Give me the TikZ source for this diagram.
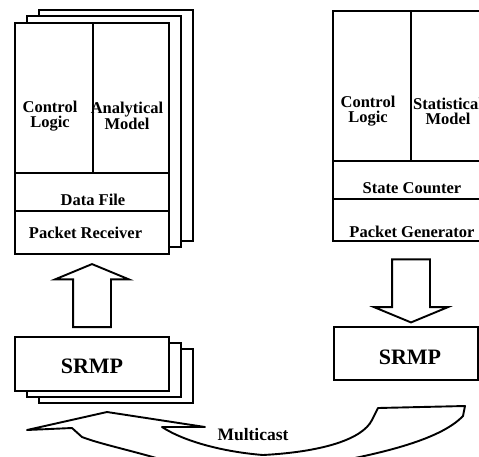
\documentclass[tikz,border=0pt]{standalone}
\usepackage{fontspec}
\setmainfont{Liberation Serif}
\usepackage{tikz}
\usetikzlibrary{shapes.arrows}

\tikzstyle{sheet} = [rectangle, draw=black, line width=1.9pt, fill=white, inner sep=0pt]
\tikzstyle{cell} = [rectangle, draw=black, line width=1.9pt, inner sep=0pt]
\tikzstyle{caption} = [font=\bfseries\fontsize{16.5}{15}\selectfont, align=center, inner sep=0pt]
\tikzstyle{bigcaption} = [font=\bfseries\fontsize{22}{24}\selectfont, inner sep=0pt]
\tikzstyle{blockarrow} = [single arrow, draw=black, line width=1.9pt, fill=white, inner sep=0pt, minimum height=63pt, single arrow head extend=18pt, single arrow tip angle=135]
\tikzstyle{band} = [draw=black, line width=1.9pt, line join=round, fill=white]

\begin{document}
\begin{tikzpicture}[x=1pt, y=-1pt]
    \useasboundingbox (0,0) rectangle (479,456);
    \clip (0,0) rectangle (479,456);

    % receiver side: three stacked copies
    \node (rxBackB) [sheet, minimum width=154pt, minimum height=231pt] at (116,125.5) {};
    \node (rxBackA) [sheet, minimum width=154pt, minimum height=231pt] at (104,131.5) {};
    \node (rxFront) [sheet, minimum width=154pt, minimum height=231pt] at (92,138.5) {};
    \node (rxCtrl) [cell, minimum width=78pt, minimum height=150pt] at (54,98) {};
    \node (rxModel) [cell, minimum width=76pt, minimum height=150pt] at (131,98) {};
    \node (rxData) [cell, minimum width=154pt, minimum height=38pt] at (92,192) {};
    \node (rxRecv) [cell, minimum width=154pt, minimum height=43pt] at (92,232.5) {};

    \node (rxCtrlText) [caption] at (50,116) {Control\\Logic};
    \node (rxModelText) [caption] at (127,116) {Analytical\\Model};
    \node (rxDataText) [caption, anchor=base] at (93,205) {Data File};
    \node (rxRecvText) [caption, anchor=base] at (85.5,238) {Packet Receiver};

    % generator side
    \node (genFront) [sheet, minimum width=154pt, minimum height=230pt] at (410,126) {};
    \node (genCtrl) [cell, minimum width=78pt, minimum height=150pt] at (372,86) {};
    \node (genModel) [cell, minimum width=76pt, minimum height=150pt] at (449,86) {};
    \node (genState) [cell, minimum width=154pt, minimum height=38pt] at (410,180) {};
    \node (genPkt) [cell, minimum width=154pt, minimum height=42pt] at (410,220) {};

    \node (genCtrlText) [caption] at (368,111) {Control\\Logic};
    \node (genModelText) [caption] at (448,111) {Statistical\\Model};
    \node (genStateText) [caption, anchor=base] at (412,193) {State Counter};
    \node (genPktText) [caption, anchor=base] at (412,237) {Packet Generator};

    % SRMP layers
    \node (srmpRxB) [sheet, minimum width=154pt, minimum height=54pt] at (116,376) {};
    \node (srmpRxA) [sheet, minimum width=154pt, minimum height=54pt] at (104,370) {};
    \node (srmpRx) [sheet, minimum width=154pt, minimum height=54pt] at (92,364) {};
    \node (srmpRxText) [bigcaption, anchor=base] at (92,373) {SRMP};

    \node (srmpGen) [sheet, minimum width=144pt, minimum height=53pt] at (406,353.5) {};
    \node (srmpGenText) [bigcaption, anchor=base] at (410,364) {SRMP};

    % hollow arrows between the layers
    \node (upArrow) [blockarrow, rotate=90] at (92,299.5) {\rule{0pt}{36pt}};
    \node (downArrow) [blockarrow, rotate=-90] at (411,287) {\rule{0pt}{36pt}};

    % multicast channel
    \draw[band] (27,430) -- (107,412) -- (205,427) -- (162,427)
        .. controls (185,442) and (225,452) .. (263,455)
        .. controls (320,452) and (362,440) .. (372,420)
        -- (378,408) -- (465,406) -- (463,416)
        .. controls (440,440) and (380,455) .. (300,468)
        -- (170,462)
        .. controls (130,450) and (100,444) .. (82,437)
        -- (72,428) -- cycle;
    \node (castText) [caption, font=\bfseries\fontsize{17.5}{18}\selectfont, anchor=base] at (253,440) {Multicast};
\end{tikzpicture}
\end{document}
